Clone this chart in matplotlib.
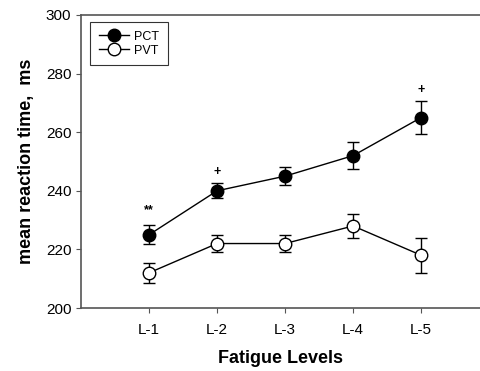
import matplotlib
matplotlib.use("Agg")
import matplotlib.pyplot as plt
from matplotlib.lines import Line2D

plt.rcParams['font.family'] = ['Liberation Sans', 'DejaVu Sans']

levels = ["L-1", "L-2", "L-3", "L-4", "L-5"]
pct = [225, 240, 245, 252, 265]
pct_err = [3.3, 2.5, 3.0, 4.5, 5.5]
pvt = [212, 222, 222, 228, 218]
pvt_err = [3.5, 3.0, 3.0, 4.0, 6.0]
annots = ["**", "+", "", "", "+"]
annot_y = [233.5, 246.5, None, None, 274.5]

fig = plt.figure(figsize=(4.81, 3.71), dpi=100)
ax = fig.add_axes([81/481, 1-308/371, 400/481, 293/371])

x = list(range(1, len(levels)+1))
ax.errorbar(x, pct, yerr=pct_err, fmt='-o', color='black', mfc='black', mec='black',
            ms=9, lw=1, capsize=4, elinewidth=1, capthick=1, zorder=3)
ax.errorbar(x, pvt, yerr=pvt_err, fmt='-o', color='black', mfc='white', mec='black',
            ms=9, lw=1, capsize=4, elinewidth=1, capthick=1, zorder=3)
for xi, a, ay in zip(x, annots, annot_y):
    if a:
        ax.text(xi, ay, a, ha='center', va='center', fontsize=9, fontweight='bold')

ax.set_xlim(0, 5.88)
ax.set_ylim(200, 300)
ax.set_yticks([200, 220, 240, 260, 280, 300])
ax.set_xticks(x)
ax.set_xticklabels(levels)
ax.tick_params(axis='both', direction='out', labelsize=11, length=3.5, color='#555555')
ax.tick_params(axis='x', pad=7)
for s in ['left', 'bottom', 'top']:
    ax.spines[s].set_color('#555555')
    ax.spines[s].set_linewidth(1.2)
ax.spines['right'].set_visible(False)

ax.set_ylabel('mean reaction time,  ms', fontsize=13, fontweight='bold', labelpad=8)
ax.set_xlabel('Fatigue Levels', fontsize=13, fontweight='bold', labelpad=10)

handles = [
    Line2D([], [], color='black', marker='o', mfc='black', mec='black', ms=9, lw=1),
    Line2D([], [], color='black', marker='o', mfc='white', mec='black', ms=9, lw=1),
]
leg = ax.legend(handles, ['PCT', 'PVT'], loc='upper left', fontsize=9, frameon=True,
                fancybox=False, edgecolor='black', handlelength=2.4, borderpad=0.7,
                labelspacing=0.15, handletextpad=0.4, borderaxespad=0,
                bbox_to_anchor=(9/400, 1-7/293))
leg.get_frame().set_linewidth(0.8)

fig.savefig('out.png', dpi=100)
